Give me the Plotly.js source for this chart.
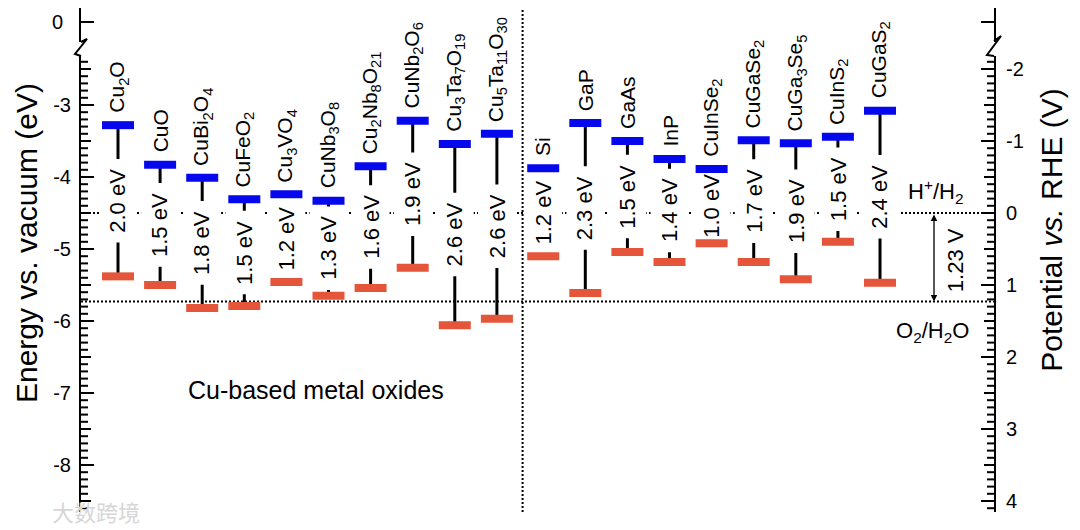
<!DOCTYPE html>
<html><head><meta charset="utf-8">
<script src="https://cdn.plot.ly/plotly-3.0.1.min.js"></script>
<style>body{margin:0;background:#fff}#chart{width:1080px;height:530px}</style>
</head><body><div id="chart"></div>
<script>
// ---------- data ----------
const oxideNames = ['Cu<sub>2</sub>O','CuO','CuBi<sub>2</sub>O<sub>4</sub>','CuFeO<sub>2</sub>','Cu<sub>3</sub>VO<sub>4</sub>','CuNb<sub>3</sub>O<sub>8</sub>','Cu<sub>2</sub>Nb<sub>8</sub>O<sub>21</sub>','CuNb<sub>2</sub>O<sub>6</sub>','Cu<sub>3</sub>Ta<sub>7</sub>O<sub>19</sub>','Cu<sub>5</sub>Ta<sub>11</sub>O<sub>30</sub>'];
const oxideCB = [-3.28,-3.83,-4.01,-4.31,-4.24,-4.33,-3.85,-3.22,-3.54,-3.40];
const oxideVB = [-5.38,-5.50,-5.82,-5.79,-5.46,-5.65,-5.54,-5.26,-6.06,-5.97];
const oxideGap = ['2.0','1.5','1.8','1.5','1.2','1.3','1.6','1.9','2.6','2.6'];

const otherNames = ['Si','GaP','GaAs','InP','CuInSe<sub>2</sub>','CuGaSe<sub>2</sub>','CuGa<sub>3</sub>Se<sub>5</sub>','CuInS<sub>2</sub>','CuGaS<sub>2</sub>'];
const otherCB = [-3.88,-3.25,-3.50,-3.75,-3.89,-3.49,-3.53,-3.44,-3.08];
const otherVB = [-5.10,-5.61,-5.04,-5.18,-4.92,-5.18,-5.42,-4.90,-5.47];
const otherGap = ['1.2','2.3','1.5','1.4','1.0','1.7','1.9','1.5','2.4'];

const leftTicks = [-8,-7,-6,-5,-4,-3];
const leftTickText = ['-8','-7','-6','-5','-4','-3'];
const rightTicks = [-2,-1,0,1,2,3,4];
const rightTickText = ['-2','-1','0','1','2','3','4'];
const topTicks = [0];
const topTickText = ['0'];
const hRedox = -4.5;   // H+/H2 vs vacuum (eV)
const oRedox = -5.73;  // O2/H2O vs vacuum (eV)

// ---------- geometry / style ----------
const FONT = 'Liberation Sans, Arial, Helvetica, sans-serif';
const BLUE = '#0508ec', RED = '#e5553a';
const W = 1080, H = 530, ML = 81, MR = 86, MT = 8, MB = 18;
const PW = W - ML - MR, PH = H - MT - MB;
const px2x = p => (p - ML) / PW;
const py2y = p => (H - MB - p) / PH;
const pxPerUnitX = 42.1, x0px = 118;
const xRange = [(ML - x0px) / pxPerUnitX, (W - MR - x0px) / pxPerUnitX];
const pxPerE = 72, hPx = 213, mainTopPx = 56, bottomPx = H - MB;
const Ebot = hRedox - (bottomPx - hPx) / pxPerE;
const Etop = hRedox + (hPx - mainTopPx) / pxPerE;
const mainDomain = [0, py2y(mainTopPx)];

const names = oxideNames.concat(otherNames);
const cb = oxideCB.concat(otherCB);
const vb = oxideVB.concat(otherVB);
const gaps = oxideGap.concat(otherGap);
const xs = oxideNames.map((_, i) => i).concat(otherNames.map((_, j) => oxideNames.length + j + 0.1));
const dividerX = (oxideNames.length - 1 + oxideNames.length + 0.1) / 2 + 0.06;

const barHalf = 0.38, boxHalfW = 0.45, boxHalfH = 0.58;

const seg = (f) => { const X = [], Y = []; xs.forEach((x, i) => { const r = f(x, i); X.push(...r[0], null); Y.push(...r[1], null); }); return [X, Y]; };

const conn = seg((x, i) => [[x, x], [cb[i], vb[i]]]);
const boxes = seg((x, i) => { const m = (cb[i] + vb[i]) / 2; return [[x - boxHalfW, x + boxHalfW, x + boxHalfW, x - boxHalfW, x - boxHalfW], [m - boxHalfH, m - boxHalfH, m + boxHalfH, m + boxHalfH, m - boxHalfH]]; });
const cbSeg = seg((x, i) => [[x - barHalf, x + barHalf], [cb[i], cb[i]]]);
const vbSeg = seg((x, i) => [[x - barHalf, x + barHalf], [vb[i], vb[i]]]);

const Vbot = hRedox - Ebot, Vtop = hRedox - Etop;
const stubRange = [-1, 0.7];

const traces = [
  {x: conn[0], y: conn[1], mode: 'lines', line: {color: '#000', width: 3}, hoverinfo: 'skip', showlegend: false},
  {x: boxes[0], y: boxes[1], mode: 'lines', fill: 'toself', fillcolor: '#fff', line: {width: 0, color: 'rgba(0,0,0,0)'}, hoverinfo: 'skip', showlegend: false},
  {x: cbSeg[0], y: cbSeg[1], mode: 'lines', line: {color: BLUE, width: 8}, name: 'CB', showlegend: false},
  {x: vbSeg[0], y: vbSeg[1], mode: 'lines', line: {color: RED, width: 8}, name: 'VB', showlegend: false}
];
// invisible anchors so that every helper axis is drawn
const anchorOn = (ax, yv) => ({x: [xRange[0]], y: [yv], yaxis: ax, mode: 'markers', marker: {opacity: 0, size: 1}, hoverinfo: 'skip', showlegend: false});
traces.push(anchorOn('y2', 0), anchorOn('y3', 0), anchorOn('y4', 0), anchorOn('y9', 0.5), anchorOn('y10', 0.5));

const annotations = [];
xs.forEach((x, i) => {
  annotations.push({x: x, y: cb[i], xref: 'x', yref: 'y', text: names[i], textangle: -90, showarrow: false,
    yanchor: 'bottom', xanchor: 'center', yshift: 10, font: {family: FONT, size: 21, color: '#000'}});
  annotations.push({x: x, y: (cb[i] + vb[i]) / 2, xref: 'x', yref: 'y', text: gaps[i] + ' eV', textangle: -90, showarrow: false,
    font: {family: FONT, size: 22, color: '#000'}});
});
const arrowX = (934 - x0px) / pxPerUnitX;
annotations.push(
  {x: arrowX, y: oRedox, ax: arrowX, ay: hRedox, xref: 'x', yref: 'y', axref: 'x', ayref: 'y', text: '', showarrow: true,
   arrowside: 'end+start', arrowhead: 2, arrowsize: 1, arrowwidth: 1.3, arrowcolor: '#000', standoff: 0, startstandoff: 0},
  {x: (955 - x0px) / pxPerUnitX, y: (hRedox + oRedox) / 2 - 0.04, xref: 'x', yref: 'y', text: '1.23 V', textangle: -90, showarrow: false,
   font: {family: FONT, size: 22, color: '#000'}},
  {x: (935 - x0px) / pxPerUnitX, y: hRedox + 0.06, xref: 'x', yref: 'y', yanchor: 'bottom', text: 'H<sup>+</sup>/H<sub>2</sub>', showarrow: false,
   font: {family: FONT, size: 22, color: '#000'}},
  {x: (932 - x0px) / pxPerUnitX, y: oRedox - 0.2, xref: 'x', yref: 'y', yanchor: 'top', text: 'O<sub>2</sub>/H<sub>2</sub>O', showarrow: false,
   font: {family: FONT, size: 22, color: '#000'}},
  {x: (316 - x0px) / pxPerUnitX, y: hRedox - (390 - hPx) / pxPerE, xref: 'x', yref: 'y', text: 'Cu-based metal oxides', showarrow: false,
   font: {family: FONT, size: 25, color: '#000'}},
  {x: px2x(50), y: py2y(511), xref: 'paper', yref: 'paper', xanchor: 'left', yanchor: 'middle', text: '大数跨境', showarrow: false,
   font: {family: 'Noto Sans CJK SC', size: 22, color: '#d6d6d6'}}
);

function halfTicks(lo, hi) { const out = []; for (let k = Math.ceil(lo - 0.5); k <= Math.floor(hi - 0.5); k++) out.push(k + 0.5); return out; }
function tenthTicks(lo, hi) { const out = []; for (let k = Math.ceil(lo * 10); k <= Math.floor(hi * 10); k++) { if (k % 5 !== 0) out.push(k / 10); } return out; }

const zz = (pts) => 'M ' + pts.map(p => px2x(p[0]) + ',' + py2y(p[1])).join(' L ');
const shapes = [
  {type: 'line', xref: 'paper', yref: 'y', x0: 0, x1: 1, y0: hRedox, y1: hRedox, layer: 'below', line: {color: '#000', width: 2, dash: '2px,2px'}},
  {type: 'line', xref: 'paper', yref: 'y', x0: 0, x1: 1, y0: oRedox, y1: oRedox, layer: 'below', line: {color: '#000', width: 2, dash: '2px,2px'}},
  {type: 'line', xref: 'x', yref: 'paper', x0: dividerX, x1: dividerX, y0: 0, y1: 1, layer: 'below', line: {color: '#000', width: 2, dash: '2px,2px'}},
  {type: 'path', xref: 'paper', yref: 'paper', path: zz([[81, 42], [87, 39], [75, 54], [81, 56]]), line: {color: '#000', width: 2}},
  {type: 'path', xref: 'paper', yref: 'paper', path: zz([[994, 41], [1001, 36], [987, 55], [994, 56]]), line: {color: '#000', width: 2}}
];
// minor (0.1) and medium (0.5) tick marks on both vertical axes
const tickShape = (side, v, len) => side === 'L'
  ? {type: 'line', xref: 'paper', yref: 'y', x0: 0, x1: px2x(ML + len), y0: v, y1: v, line: {color: '#000', width: 2}}
  : {type: 'line', xref: 'paper', yref: 'y2', x0: 1, x1: px2x(W - MR - len), y0: v, y1: v, line: {color: '#000', width: 2}};
tenthTicks(Ebot, Etop).forEach(v => shapes.push(tickShape('L', v, 7)));
halfTicks(Ebot, Etop).forEach(v => shapes.push(tickShape('L', v, 10)));
tenthTicks(Vtop, Vbot).forEach(v => shapes.push(tickShape('R', v, 7)));
halfTicks(Vtop, Vbot).forEach(v => shapes.push(tickShape('R', v, 10)));

const axBase = {showgrid: false, zeroline: false, showline: true, linecolor: '#000', linewidth: 2,
  ticks: 'inside', tickcolor: '#000', tickwidth: 2, ticklen: 13, tickfont: {family: FONT, size: 20, color: '#000'}, fixedrange: true};
const stubDomain = [py2y(42), 1];
const titleFont = {family: FONT, size: 30, color: '#000'};

const layout = {
  width: W, height: H, margin: {l: ML, r: MR, t: MT, b: MB}, paper_bgcolor: '#fff', plot_bgcolor: 'rgba(0,0,0,0)',
  showlegend: false, font: {family: FONT, color: '#000'},
  xaxis: {range: xRange, visible: true, showgrid: false, zeroline: false, showline: false, showticklabels: false, ticks: '', fixedrange: true},
  yaxis: Object.assign({}, axBase, {domain: mainDomain, range: [Ebot, Etop], tickmode: 'array', tickvals: leftTicks, ticktext: leftTickText, ticklabelstandoff: 4}),
  yaxis2: Object.assign({}, axBase, {overlaying: 'y', side: 'right', range: [Vbot, Vtop], tickmode: 'array', tickvals: rightTicks, ticktext: rightTickText, ticklabelstandoff: 6}),
  yaxis3: Object.assign({}, axBase, {domain: stubDomain, anchor: 'x', range: stubRange, tickmode: 'array', tickvals: topTicks, ticktext: topTickText, ticklabelstandoff: 12}),
  yaxis4: Object.assign({}, axBase, {overlaying: 'y3', side: 'right', range: stubRange, tickmode: 'array', tickvals: topTicks, showticklabels: false}),
  yaxis9: {anchor: 'free', position: 0, domain: [py2y(345), py2y(141)], range: [0, 1], showline: false, showgrid: false, zeroline: false,
    ticks: '', showticklabels: false, fixedrange: true,
    title: {text: 'Energy vs. vacuum (eV)', font: titleFont, standoff: 33}},
  yaxis10: {anchor: 'free', position: 1, side: 'right', domain: [py2y(330), py2y(130)], range: [0, 1], showline: false, showgrid: false, zeroline: false,
    ticks: '', showticklabels: false, fixedrange: true,
    title: {text: 'Potential <i>vs.</i> RHE (V)', font: titleFont, standoff: 46}},
  shapes: shapes,
  annotations: annotations
};

Plotly.newPlot('chart', traces, layout, {staticPlot: true, displayModeBar: false});
</script>
</body></html>
